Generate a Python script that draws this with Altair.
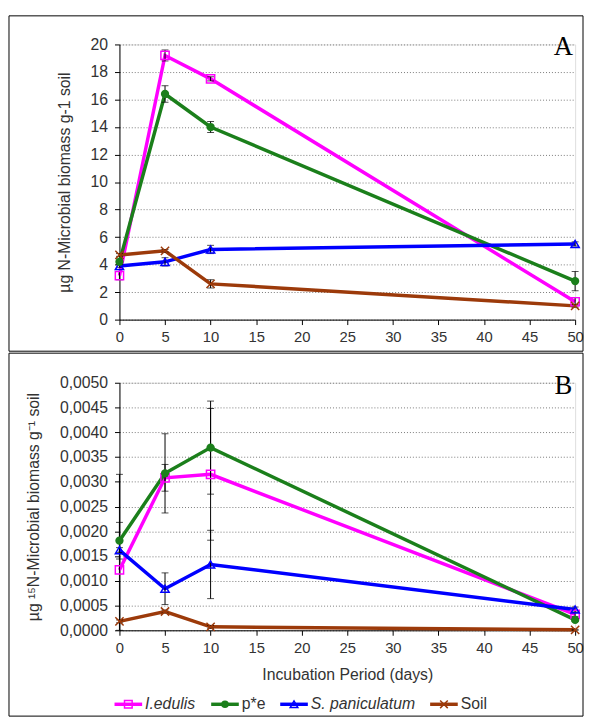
import altair as alt
import pandas as pd

# ---------------- data ----------------
days = [0, 5, 10, 50]
series = ["I.edulis", "p*e", "S. paniculatum", "Soil"]
colors = ["#FF00FF", "#1B7F1B", "#0000FF", "#9C3A0A"]
x_ticks = [0, 5, 10, 15, 20, 25, 30, 35, 40, 45, 50]

# Panel A: ug N-Microbial biomass g-1 soil
a_iedulis = [3.2, 19.2, 17.5, 1.3]
a_pe = [4.2, 16.4, 14.0, 2.8]
a_span = [3.9, 4.2, 5.1, 5.5]
a_soil = [4.7, 5.0, 2.6, 1.0]
a_err_iedulis = [0.3, 0.4, 0.15, 0.3]
a_err_pe = [0.2, 0.6, 0.4, 0.7]
a_err_span = [0.1, 0.3, 0.3, 0.15]
a_err_soil = [0.1, 0.1, 0.3, 0.1]
a_ticks = [0, 2, 4, 6, 8, 10, 12, 14, 16, 18, 20]

# Panel B: ug 15N-Microbial biomass g-1 soil
b_iedulis = [0.00122, 0.00308, 0.00315, 0.00032]
b_pe = [0.00181, 0.00317, 0.00369, 0.00021]
b_span = [0.00162, 0.00084, 0.00133, 0.00042]
b_soil = [0.00018, 0.00038, 0.00007, 0.00001]
b_err_iedulis = [0.00193, 0.00027, 0.00133, 0.00004]
b_err_pe = [0.00037, 0.00080, 0.00094, 0.00003]
b_err_span = [0.00005, 0.00032, 0.00069, 0.00005]
b_err_soil = [0.00003, 0.00003, 0.00003, 0.00001]
b_ticks = [0, 0.0005, 0.001, 0.0015, 0.002, 0.0025, 0.003, 0.0035, 0.004, 0.0045, 0.005]

FONT = "Liberation Sans"


def long_table(vals, errs):
    rows = []
    for s, v, e in zip(series, vals, errs):
        for d, y, err in zip(days, v, e):
            rows.append({"series": s, "day": d, "value": y,
                         "lo": max(0.0, y - err), "hi": y + err})
    return pd.DataFrame(rows)


df_a = long_table([a_iedulis, a_pe, a_span, a_soil],
                  [a_err_iedulis, a_err_pe, a_err_span, a_err_soil])
df_b = long_table([b_iedulis, b_pe, b_span, b_soil],
                  [b_err_iedulis, b_err_pe, b_err_span, b_err_soil])

color_scale = alt.Scale(domain=series, range=colors)
shape_scale = alt.Scale(domain=series,
                        range=["square", "circle", "triangle-up", "M-1,-1L1,1M-1,1L1,-1"])

W = 462


def panel(df, ydomain, yticks, ytitle, letter, height, box_top, box_bottom,
          label_expr="datum.label", xtitle=None, legend=False):
    y_axis = alt.Axis(values=yticks, grid=True, gridDash=[1, 2], gridColor="#7a7a7a",
                      gridWidth=1, domainColor="black", tickColor="black", tickSize=5,
                      labelFont=FONT, labelFontSize=16, labelColor="#333",
                      labelPadding=7, labelOverlap=False, labelExpr=label_expr,
                      titleFont=FONT, titleFontSize=16,
                      titleFontWeight="normal", titleColor="#333", titlePadding=18)
    x_kwargs = dict(values=x_ticks, grid=False, domainColor="black", tickColor="black",
                    tickSize=5, labelFont=FONT, labelFontSize=15, labelColor="#333",
                    labelPadding=5, labelFlush=False, labelOverlap=False)
    if xtitle:
        x_axis = alt.Axis(title=xtitle, titleFont=FONT, titleFontSize=16,
                          titleFontWeight="normal", titleColor="#333", titlePadding=12,
                          **x_kwargs)
    else:
        x_axis = alt.Axis(title=None, **x_kwargs)

    xs = alt.Scale(domain=[0, 50], nice=False)
    ys = alt.Scale(domain=ydomain, nice=False)

    def X(f="day"):
        return alt.X(f"{f}:Q", scale=xs, axis=x_axis, title=xtitle)

    def Y(f="value"):
        return alt.Y(f"{f}:Q", scale=ys, axis=y_axis, title=ytitle)

    base = alt.Chart(df)
    lines = base.mark_line(strokeWidth=3.5).encode(
        x=X(), y=Y(),
        color=alt.Color("series:N", scale=color_scale, legend=None),
        order=alt.Order("day:Q"),
        detail="series:N",
    )
    err_rule = base.mark_rule(color="black", strokeWidth=1).encode(
        x=X(), y=Y("lo"), y2="hi:Q")
    err_hi = base.mark_tick(color="black", thickness=1, size=7, orient="horizontal").encode(
        x=X(), y=Y("hi"))
    err_lo = base.mark_tick(color="black", thickness=1, size=7, orient="horizontal").encode(
        x=X(), y=Y("lo"))
    pts_open = base.transform_filter(alt.datum.series != "p*e").mark_point(
        filled=False, size=70, strokeWidth=1.5, opacity=1).encode(
        x=X(), y=Y(),
        color=alt.Color("series:N", scale=color_scale, legend=None),
        shape=alt.Shape("series:N", scale=shape_scale, legend=None))
    pts_fill = base.transform_filter(alt.datum.series == "p*e").mark_point(
        filled=True, size=70, opacity=1).encode(
        x=X(), y=Y(),
        color=alt.Color("series:N", scale=color_scale, legend=None),
        shape=alt.Shape("series:N", scale=shape_scale, legend=None))

    one = alt.Chart(pd.DataFrame({"k": [0]}))
    box = one.mark_rect(fillOpacity=0, stroke="black", strokeWidth=1).encode(
        x=alt.value(-112), x2=alt.value(W + 8),
        y=alt.value(box_top), y2=alt.value(box_bottom))
    letter_mark = one.mark_text(text=letter, font="Liberation Serif", fontSize=27,
                                align="center", baseline="alphabetic", color="black").encode(
        x=alt.value(450), y=alt.value(11))

    layers = [lines, err_rule, err_hi, err_lo, pts_open, pts_fill, box, letter_mark]

    if legend:
        starts = [-5, 93, 163, 315]
        leg = pd.DataFrame({"series": series,
                            "x0": starts,
                            "x1": [s + 28 for s in starts],
                            "xm": [s + 14 for s in starts],
                            "tx": [s + 31 for s in starts],
                            "italic": [True, False, True, False]})
        lbase = alt.Chart(leg)
        ly = height + 75
        lrule = lbase.mark_rule(strokeWidth=3.5).encode(
            x=alt.X("x0:Q", scale=None), x2="x1:Q", y=alt.value(ly),
            color=alt.Color("series:N", scale=color_scale, legend=None))
        lpt_open = lbase.transform_filter(alt.datum.series != "p*e").mark_point(
            filled=False, size=60, strokeWidth=1.5, opacity=1).encode(
            x=alt.X("xm:Q", scale=None), y=alt.value(ly),
            color=alt.Color("series:N", scale=color_scale, legend=None),
            shape=alt.Shape("series:N", scale=shape_scale, legend=None))
        lpt_fill = lbase.transform_filter(alt.datum.series == "p*e").mark_point(
            filled=True, size=60, opacity=1).encode(
            x=alt.X("xm:Q", scale=None), y=alt.value(ly),
            color=alt.Color("series:N", scale=color_scale, legend=None),
            shape=alt.Shape("series:N", scale=shape_scale, legend=None))
        ltxt_i = lbase.transform_filter(alt.datum.italic).mark_text(
            font=FONT, fontSize=16, fontStyle="italic", align="left", baseline="middle",
            color="#333").encode(x=alt.X("tx:Q", scale=None), y=alt.value(ly), text="series:N")
        ltxt_n = lbase.transform_filter(~alt.datum.italic).mark_text(
            font=FONT, fontSize=16, align="left", baseline="middle",
            color="#333").encode(x=alt.X("tx:Q", scale=None), y=alt.value(ly), text="series:N")
        layers += [lrule, lpt_open, lpt_fill, ltxt_i, ltxt_n]

    return alt.layer(*layers).properties(width=W, height=height)


panel_a = panel(df_a, [0, 20], a_ticks, "µg N-Microbial biomass g-1 soil", "A",
                279, -29, 311)
panel_b = panel(df_b, [0, 0.005], b_ticks, "µg ¹⁵N-Microbial biomass g⁻¹ soil", "B",
                251, -30, 338,
                label_expr="replace(format(datum.value, '.4f'), '.', ',')",
                xtitle="Incubation Period (days)", legend=True)

chart = alt.vconcat(panel_a, panel_b, spacing=0).properties(
    padding={"left": 0, "top": 2, "right": 0, "bottom": 0}
).configure_view(stroke=None).configure(background="white")

chart.save("out.html", embed_options={"renderer": "svg", "actions": False})
